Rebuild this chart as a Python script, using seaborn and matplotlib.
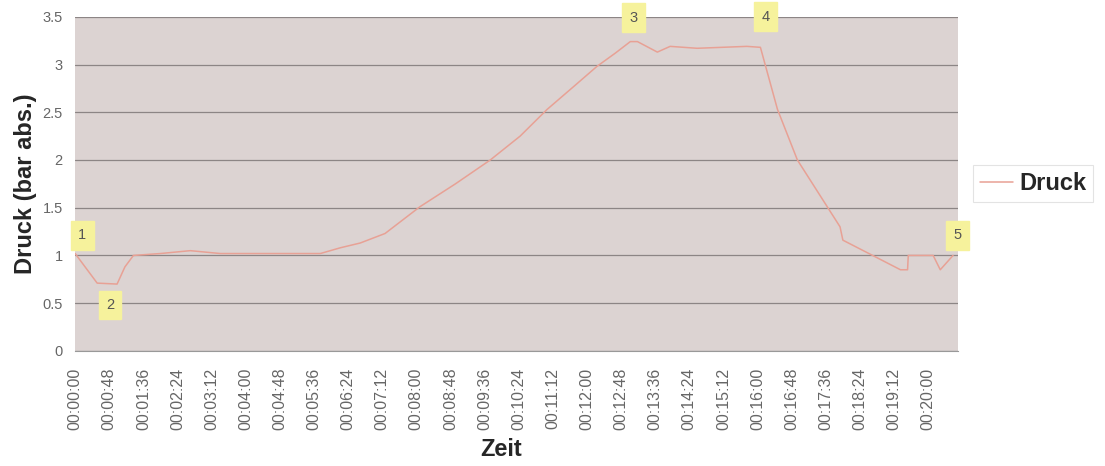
import seaborn as sns
import matplotlib.pyplot as plt
import matplotlib.ticker as mticker
import pandas as pd

# Zeit in Sekunden, Druck in bar abs.
zeit_s = [0, 31, 59, 70, 82, 120, 162, 204, 345, 373, 401, 436, 485, 535, 584,
          626, 664, 703, 734, 760, 781, 791, 819, 837, 875, 945, 964, 988, 1016,
          1034, 1076, 1080, 1114, 1161, 1171, 1172, 1207, 1217, 1235]
druck = [1.02, 0.71, 0.70, 0.88, 1.00, 1.02, 1.05, 1.02, 1.02, 1.08, 1.13, 1.23,
         1.51, 1.75, 2.00, 2.25, 2.53, 2.78, 2.98, 3.12, 3.24, 3.24, 3.13, 3.19,
         3.17, 3.19, 3.18, 2.53, 2.00, 1.79, 1.30, 1.16, 1.03, 0.85, 0.85, 1.00,
         1.00, 0.85, 1.00]

# Markierungen 1..5
marker_namen = ["1", "2", "3", "4", "5"]
marker_t = [10, 49, 785, 971, 1241]
marker_y = [1.21, 0.48, 3.49, 3.50, 1.21]

y_ticks = [0, 0.5, 1, 1.5, 2, 2.5, 3, 3.5]
y_labels = ["0", "0.5", "1", "1.5", "2", "2.5", "3", "3.5"]
x_ticks = list(range(0, 1201, 48))

df = pd.DataFrame({"Zeit": zeit_s, "Druck": druck})

sns.set_style("white")
plt.rcParams['font.family'] = ['Liberation Sans', 'DejaVu Sans']

fig = plt.figure(figsize=(11.05, 4.66), dpi=100)
ax = fig.add_axes([0.068, 0.247, 0.799, 0.717])
ax.set_facecolor('#dcd3d2')

sns.lineplot(data=df, x="Zeit", y="Druck", ax=ax, color='#e8a195', linewidth=1.1,
             label="Druck")

ax.set_xlim(0, 1242)
ax.set_ylim(0, 3.5)
ax.set_yticks(y_ticks)
ax.set_yticklabels(y_labels)
ax.yaxis.grid(True, color='#8c8585', linewidth=0.9)
ax.xaxis.grid(False)

ax.xaxis.set_major_locator(mticker.FixedLocator(x_ticks))
ax.xaxis.set_minor_locator(mticker.MultipleLocator(6))
ax.xaxis.set_major_formatter(mticker.FuncFormatter(
    lambda v, p: "%02d:%02d:%02d" % (int(v) // 3600, (int(v) % 3600) // 60, int(v) % 60)))
ax.tick_params(axis='x', which='major', labelrotation=90, labelsize=11.5,
               labelcolor='#666666', length=4, color='#aaaaaa', direction='out', pad=8)
ax.tick_params(axis='x', which='minor', length=3, color='#aaaaaa', direction='out')
ax.tick_params(axis='y', labelsize=10.5, labelcolor='#666666', length=0, pad=9)

for s in ['top', 'right', 'left']:
    ax.spines[s].set_visible(False)
ax.spines['bottom'].set_color('#999999')

ax.set_xlabel("Zeit", fontsize=17, fontweight='bold')
ax.xaxis.set_label_coords(0.482, -0.262)
ax.set_ylabel("Druck (bar abs.)", fontsize=17, fontweight='bold', labelpad=4)

for name, t, y in zip(marker_namen, marker_t, marker_y):
    ax.text(t, y, name, ha='center', va='center', fontsize=10.5, color='#555555',
            bbox=dict(boxstyle='square,pad=0.5', facecolor='#f6f29c',
                      edgecolor='#f6f29c'), clip_on=False, zorder=5)

leg = ax.legend(loc='center left', bbox_to_anchor=(1.017, 0.50), frameon=True,
                fancybox=False, handlelength=1.4, handletextpad=0.25,
                borderpad=0.3, borderaxespad=0,
                prop={'weight': 'bold', 'size': 17})
leg.get_frame().set_edgecolor('#dddddd')
leg.get_frame().set_linewidth(0.8)

fig.savefig("out.png", dpi=100)
